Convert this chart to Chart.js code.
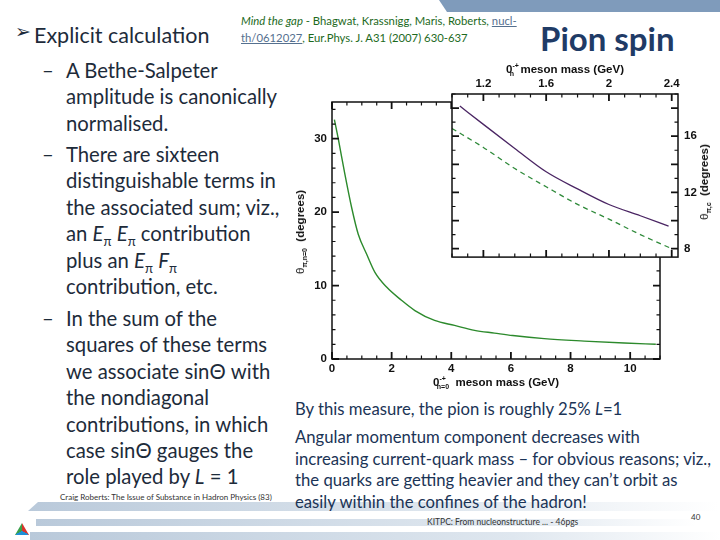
<!DOCTYPE html>
<html>
<head>
<meta charset="utf-8">
<script src="https://cdn.jsdelivr.net/npm/chart.js@4.4.0/dist/chart.umd.min.js"></script>
<style>
  body { margin: 0; background: #fff; }
  #hoja { position: relative; width: 720px; height: 540px; overflow: hidden; background: #fff; font-family: Lato, "Open Sans", sans-serif; }
  .abs { position: absolute; white-space: nowrap; }
  .bullets { color: #1d2b3a; font-size: 20.3px; line-height: 26.4px; }
  .bullets sub { line-height: 0; font-size: 13px; }
  .bullets .guion { position: absolute; left: -24px; }
  .abajo { color: #1b3456; font-size: 16.7px; line-height: 21.7px; }
  .eje { font-family: "Liberation Sans", Arial, sans-serif; font-weight: bold; font-size: 11.5px; color: #111; }
  .eje sub, .eje sup { font-size: 7px; line-height: 0; }
  .cita { font-size: 11.3px; line-height: 17px; color: #1d6a1d; }
  .cita u { color: #55708f; }
  .banda { position: absolute; }
</style>
</head>
<body>
<div id="hoja">
  <div class="abs" style="left:439px;top:0;width:281px;height:12px;background:#7f9bbb;clip-path:polygon(0 0,100% 0,100% 100%,8px 100%);"></div>

  <div class="banda" style="left:28px;top:502px;width:690px;height:9px;background:linear-gradient(90deg,#b9c9da,#e2e9f0 65%,rgba(255,255,255,0));clip-path:polygon(10px 0,100% 0,100% 100%,0 100%);"></div>
  <div class="banda" style="left:36px;top:519px;width:660px;height:7px;background:linear-gradient(90deg,#b9c9da,#e3eaf1 75%,rgba(255,255,255,0));"></div>
  <div class="banda" style="left:30px;top:532px;width:690px;height:8px;background:linear-gradient(90deg,#b9c9da,#dfe7ef 70%,rgba(255,255,255,0));"></div>
  <div class="abs" style="left:15px;top:523px;width:14px;height:12px;clip-path:polygon(50% 0,100% 100%,0 100%);background:conic-gradient(from 0deg at 50% 65%,#d8342c 0 120deg,#1f8fd6 120deg 240deg,#3aa04a 240deg 360deg);"></div>

  <div class="abs" style="left:15px;top:20px;font-size:19px;color:#1d2b3a;font-family:'DejaVu Sans';">➢</div>
  <div class="abs" style="left:34px;top:22px;font-size:21.5px;color:#1d2b3a;">Explicit calculation</div>
  <div class="abs cita" style="left:241px;top:12px;"><i>Mind the gap</i> - Bhagwat, Krassnigg, Maris, Roberts, <u>nucl-</u><br><u>th/0612027</u>, Eur.Phys. J. A31 (2007) 630-637</div>
  <div class="abs" style="left:540px;top:18px;font-size:33px;font-weight:bold;color:#1f3b66;">Pion spin</div>

  <div class="abs bullets" style="left:66px;top:57px;">
    <span class="guion">–</span>A Bethe-Salpeter<br>amplitude is canonically<br>normalised.
  </div>
  <div class="abs bullets" style="left:66px;top:141px;">
    <span class="guion">–</span>There are sixteen<br>distinguishable terms in<br>the associated sum; viz.,<br>an <i>E</i><sub>π</sub> <i>E</i><sub>π</sub> contribution<br>plus an <i>E</i><sub>π</sub> <i>F</i><sub>π</sub><br>contribution, etc.
  </div>
  <div class="abs bullets" style="left:66px;top:305px;">
    <span class="guion">–</span>In the sum of the<br>squares of these terms<br>we associate sinΘ with<br>the nondiagonal<br>contributions, in which<br>case sinΘ gauges the<br>role played by <i>L</i> = 1
  </div>

  <div class="abs abajo" style="left:295px;top:399px;">By this measure, the pion is roughly 25% <i>L</i>=1</div>
  <div class="abs abajo" style="left:295px;top:427px;">Angular momentum component decreases with<br>increasing current-quark mass – for obvious reasons; viz.,<br>the quarks are getting heavier and they can’t orbit as<br>easily within the confines of the hadron!</div>

  <div class="abs" style="left:60px;top:492px;font-size:8px;color:#333;">Craig Roberts: The Issue of Substance in Hadron Physics (83)</div>
  <div class="abs" style="left:427px;top:517px;font-size:8.5px;color:#333;">KITPC: From nucleonstructure ... - 46pgs</div>
  <div class="abs" style="left:691px;top:512px;font-size:8px;color:#333;">40</div>

  <div class="abs" style="left:290px;top:90px;width:380px;height:290px;"><canvas id="graficoPrincipal"></canvas></div>
  <div class="abs" style="left:440px;top:60px;width:280px;height:210px;"><canvas id="graficoInserto"></canvas></div>

  <div class="abs eje" style="left:496px;top:382px;transform:translate(-50%,-50%);">0<sup>-+</sup><sub style="margin-left:-9px;">n=0</sub>&nbsp; meson mass (GeV)</div>
  <div class="abs eje" style="left:300px;top:232px;transform:translate(-50%,-50%) rotate(-90deg);"><span style="font-weight:normal;">θ</span><sub>π,n=0</sub>&nbsp; (degrees)</div>
  <div class="abs eje" style="left:565px;top:69px;transform:translate(-50%,-50%);">0<sup>-+</sup><sub style="margin-left:-9px;">n</sub>&nbsp; meson mass (GeV)</div>
  <div class="abs eje" style="left:704px;top:182px;transform:translate(-50%,-50%) rotate(-90deg);"><span style="font-weight:normal;">θ</span><sub>π,c</sub>&nbsp; (degrees)</div>
</div>

<script>
// curva principal: angulo vs masa del meson (n=0)
var masaPrincipal = [0.08, 0.21, 0.43, 0.66, 0.88, 1.16, 1.44, 1.83, 2.33, 2.78, 3.44, 4.11, 4.78, 5.45, 6.06, 7.12, 8.46, 9.8, 10.86];
var anguloPrincipal = [32.6, 30, 25.2, 20.6, 17.0, 14.3, 11.8, 9.8, 8.0, 6.6, 5.25, 4.57, 3.9, 3.53, 3.2, 2.77, 2.44, 2.17, 2.0];

// inserto: dos curvas
var masaSolida = [1.05, 1.2, 1.4, 1.6, 1.8, 2.0, 2.2, 2.38];
var anguloSolida = [18.14, 16.84, 15.13, 13.47, 12.25, 11.14, 10.34, 9.6];
var masaPunteada = [1.0, 1.2, 1.4, 1.6, 1.8, 2.0, 2.2, 2.4];
var anguloPunteada = [16.55, 15.2, 13.7, 12.4, 11.15, 10.1, 9.0, 8.0];

var fuenteTicks = {family: 'Liberation Sans', weight: 'bold', size: 11.5};

function puntos(xs, ys){
    var out = [];
    for (var i = 0; i < xs.length; i++) {
        out.push({x: xs[i], y: ys[i]});
    }
    return out;
}

function marcas(ctx, escala, paso, mayor, dibujar){
    var inicio = Math.ceil(escala.min / paso - 1e-6);
    var fin = Math.floor(escala.max / paso + 1e-6);
    for (var k = inicio; k <= fin; k++) {
        var v = k * paso;
        var esMayor = Math.abs(v / mayor - Math.round(v / mayor)) < 1e-6;
        dibujar(escala.getPixelForValue(v), esMayor ? 7 : 3.5, esMayor);
    }
}

// caja con marcas hacia dentro, como en el original
var cajaConMarcas = {
    id: 'cajaConMarcas',
    beforeDraw: function(chart, args, opts){
        if (!opts.fondo) return;
        var a = chart.chartArea, ctx = chart.ctx;
        ctx.save();
        ctx.fillStyle = '#fff';
        ctx.fillRect(a.left, a.top, a.right - a.left, a.bottom - a.top);
        ctx.restore();
    },
    afterDraw: function(chart, args, opts){
        var a = chart.chartArea, ctx = chart.ctx;
        ctx.save();
        ctx.strokeStyle = '#111';
        marcas(ctx, chart.scales.x, opts.xMenor, opts.xMayor, function(p, largo, m){
            ctx.lineWidth = m ? 1.8 : 1.2;
            ctx.beginPath();
            ctx.moveTo(p, a.bottom); ctx.lineTo(p, a.bottom - largo);
            ctx.moveTo(p, a.top); ctx.lineTo(p, a.top + largo);
            ctx.stroke();
        });
        marcas(ctx, chart.scales.y, opts.yMenor, opts.yMayor, function(p, largo, m){
            ctx.lineWidth = m ? 1.8 : 1.2;
            ctx.beginPath();
            ctx.moveTo(a.left, p); ctx.lineTo(a.left + largo, p);
            ctx.moveTo(a.right, p); ctx.lineTo(a.right - largo, p);
            ctx.stroke();
        });
        ctx.lineWidth = 1.5;
        ctx.strokeRect(a.left, a.top, a.right - a.left, a.bottom - a.top);
        ctx.restore();
    }
};

function etiqueta(v){ return String(+v.toFixed(2)); }

new Chart(document.getElementById('graficoPrincipal'), {
    type: 'line',
    data: {
        datasets: [{
            data: puntos(masaPrincipal, anguloPrincipal),
            borderColor: '#2c8a2c',
            borderWidth: 1.4,
            pointRadius: 0,
            cubicInterpolationMode: 'monotone'
        }]
    },
    options: {
        responsive: true,
        maintainAspectRatio: false,
        animation: false,
        layout: {padding: {top: 12, right: 10}},
        plugins: {
            legend: {display: false},
            tooltip: {enabled: false},
            cajaConMarcas: {xMenor: 0.5, xMayor: 2, yMenor: 2, yMayor: 10}
        },
        scales: {
            x: {
                type: 'linear', min: 0, max: 11,
                grid: {display: false, drawTicks: false},
                border: {display: false},
                ticks: {stepSize: 2, includeBounds: false, padding: 3, maxRotation: 0, color: '#111', font: fuenteTicks, callback: etiqueta},
                afterFit: function(s){ s.height = 21; }
            },
            y: {
                type: 'linear', min: 0, max: 35,
                grid: {display: false, drawTicks: false},
                border: {display: false},
                ticks: {stepSize: 10, includeBounds: false, padding: 5, color: '#111', font: fuenteTicks, callback: etiqueta},
                afterFit: function(s){ s.width = 42; }
            }
        }
    },
    plugins: [cajaConMarcas]
});

new Chart(document.getElementById('graficoInserto'), {
    type: 'line',
    data: {
        datasets: [{
            data: puntos(masaSolida, anguloSolida),
            borderColor: '#4a2563',
            borderWidth: 1.3,
            pointRadius: 0,
            cubicInterpolationMode: 'monotone'
        }, {
            data: puntos(masaPunteada, anguloPunteada),
            borderColor: '#2f8a3a',
            borderWidth: 1.3,
            borderDash: [5, 4],
            pointRadius: 0,
            cubicInterpolationMode: 'monotone'
        }]
    },
    options: {
        responsive: true,
        maintainAspectRatio: false,
        animation: false,
        layout: {padding: {left: 12, bottom: 7}},
        plugins: {
            legend: {display: false},
            tooltip: {enabled: false},
            cajaConMarcas: {fondo: true, xMenor: 0.1, xMayor: 0.4, yMenor: 1, yMayor: 2}
        },
        scales: {
            x: {
                type: 'linear', position: 'top', min: 1.0, max: 2.44,
                grid: {display: false, drawTicks: false},
                border: {display: false},
                ticks: {stepSize: 0.4, includeBounds: false, padding: 3, maxRotation: 0, color: '#111', font: fuenteTicks, callback: etiqueta},
                afterFit: function(s){ s.height = 34; }
            },
            y: {
                type: 'linear', position: 'right', min: 7.4, max: 19,
                grid: {display: false, drawTicks: false},
                border: {display: false},
                ticks: {stepSize: 4, includeBounds: false, padding: 6, color: '#111', font: fuenteTicks, callback: etiqueta},
                afterFit: function(s){ s.width = 42; }
            }
        }
    },
    plugins: [cajaConMarcas]
});
</script>
</body>
</html>
